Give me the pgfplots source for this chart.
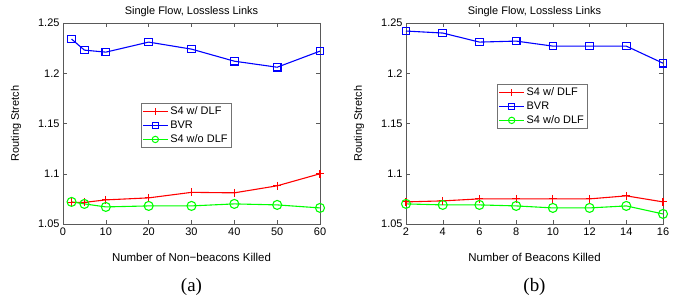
\documentclass[border=0pt]{standalone}
\usepackage{pgfplots}
\pgfplotsset{compat=1.18}
\usepackage{fontspec}
\setmainfont{Liberation Sans}
\newfontfamily\seriffont{Liberation Serif}
\definecolor{mred}{rgb}{1,0,0}
\definecolor{mblue}{rgb}{0,0,1}
\definecolor{mgreen}{rgb}{0,1,0}
\pgfplotsset{
  mystyle/.style={
    scale only axis, width=257bp, height=201bp,
    anchor=south west, clip=false,
    ymin=1.05, ymax=1.25, ytick={1.05,1.1,1.15,1.2,1.25},
    yticklabels={1.05,1.1,1.15,1.2,1.25},
    tick align=inside, tick pos=both, major tick length=4bp,
    axis line style={black!65}, every tick/.style={black!65},
    /pgf/number format/assume math mode=true,
    tick label style={font=\fontsize{11}{13}\selectfont},
    every axis title/.style={at={(axis description cs:0.5,1.055)}, anchor=center, font=\fontsize{11}{13}\selectfont},
    every axis x label/.style={at={(axis description cs:0.5,-0.164)}, anchor=center, font=\fontsize{11.5}{13}\selectfont},
    every axis y label/.style={at={(axis description cs:-0.183,0.5)}, rotate=90, anchor=center, font=\fontsize{11}{13}\selectfont},
    legend style={font=\fontsize{11}{13}\selectfont, draw=black!55, line width=0.4pt, inner xsep=1.5bp, inner ysep=1.5bp, row sep=0.8bp, cells={anchor=west}},
    legend image code/.code={\draw[mark repeat=2, mark phase=2, #1, line width=1pt, mark size=3.2bp] plot coordinates {(0bp,0bp) (12.5bp,0bp) (25bp,0bp)};},
    title={Single Flow, Lossless Links},
    ylabel={Routing Stretch},
  },
  sred/.style={draw=mred, color=mred, line width=1.1pt, mark=+, mark size=4bp, mark options={solid}},
  sblue/.style={draw=mblue, color=mblue, line width=1.1pt, mark=square, mark size=3.8bp, mark options={solid}},
  sgreen/.style={draw=mgreen, color=mgreen, line width=1.1pt, mark=o, mark size=4.5bp, mark options={solid}},
}
\begin{document}
\begin{tikzpicture}[x=1bp,y=1bp]
\useasboundingbox (0,0) rectangle (679,299);
\begin{axis}[mystyle, at={(63bp,75bp)},
  xmin=0, xmax=60, xtick={0,10,20,30,40,50,60},
  xlabel={Number of Non{\char"2212}beacons Killed},
  legend style={at={(0.302,0.602)}, anchor=north west}]
\addplot[sred] coordinates {(2,1.0716) (5,1.0715) (10,1.074) (20,1.076) (30,1.0815) (40,1.081) (50,1.088) (60,1.100)};
\addlegendentry{S4 w/ DLF}
\addplot[sblue] coordinates {(2,1.234) (5,1.223) (10,1.221) (20,1.231) (30,1.224) (40,1.212) (50,1.206) (60,1.222)};
\addlegendentry{BVR}
\addplot[sgreen] coordinates {(2,1.072) (5,1.070) (10,1.067) (20,1.068) (30,1.068) (40,1.070) (50,1.069) (60,1.066)};
\addlegendentry{S4 w/o DLF}
\end{axis}
\begin{axis}[mystyle, at={(406bp,75bp)},
  xmin=2, xmax=16, xtick={2,4,6,8,10,12,14,16},
  xlabel={Number of Beacons Killed},
  legend style={at={(0.354,0.697)}, anchor=north west}]
\addplot[sred] coordinates {(2,1.072) (4,1.073) (6,1.075) (8,1.075) (10,1.075) (12,1.075) (14,1.078) (16,1.072)};
\addlegendentry{S4 w/ DLF}
\addplot[sblue] coordinates {(2,1.242) (4,1.240) (6,1.231) (8,1.232) (10,1.227) (12,1.227) (14,1.227) (16,1.210)};
\addlegendentry{BVR}
\addplot[sgreen] coordinates {(2,1.070) (4,1.069) (6,1.069) (8,1.068) (10,1.066) (12,1.066) (14,1.068) (16,1.060)};
\addlegendentry{S4 w/o DLF}
\end{axis}
\node[font=\seriffont\fontsize{19}{21}\selectfont] at (191.5,12) {(a)};
\node[font=\seriffont\fontsize{19}{21}\selectfont] at (534.5,12) {(b)};
\end{tikzpicture}
\end{document}
